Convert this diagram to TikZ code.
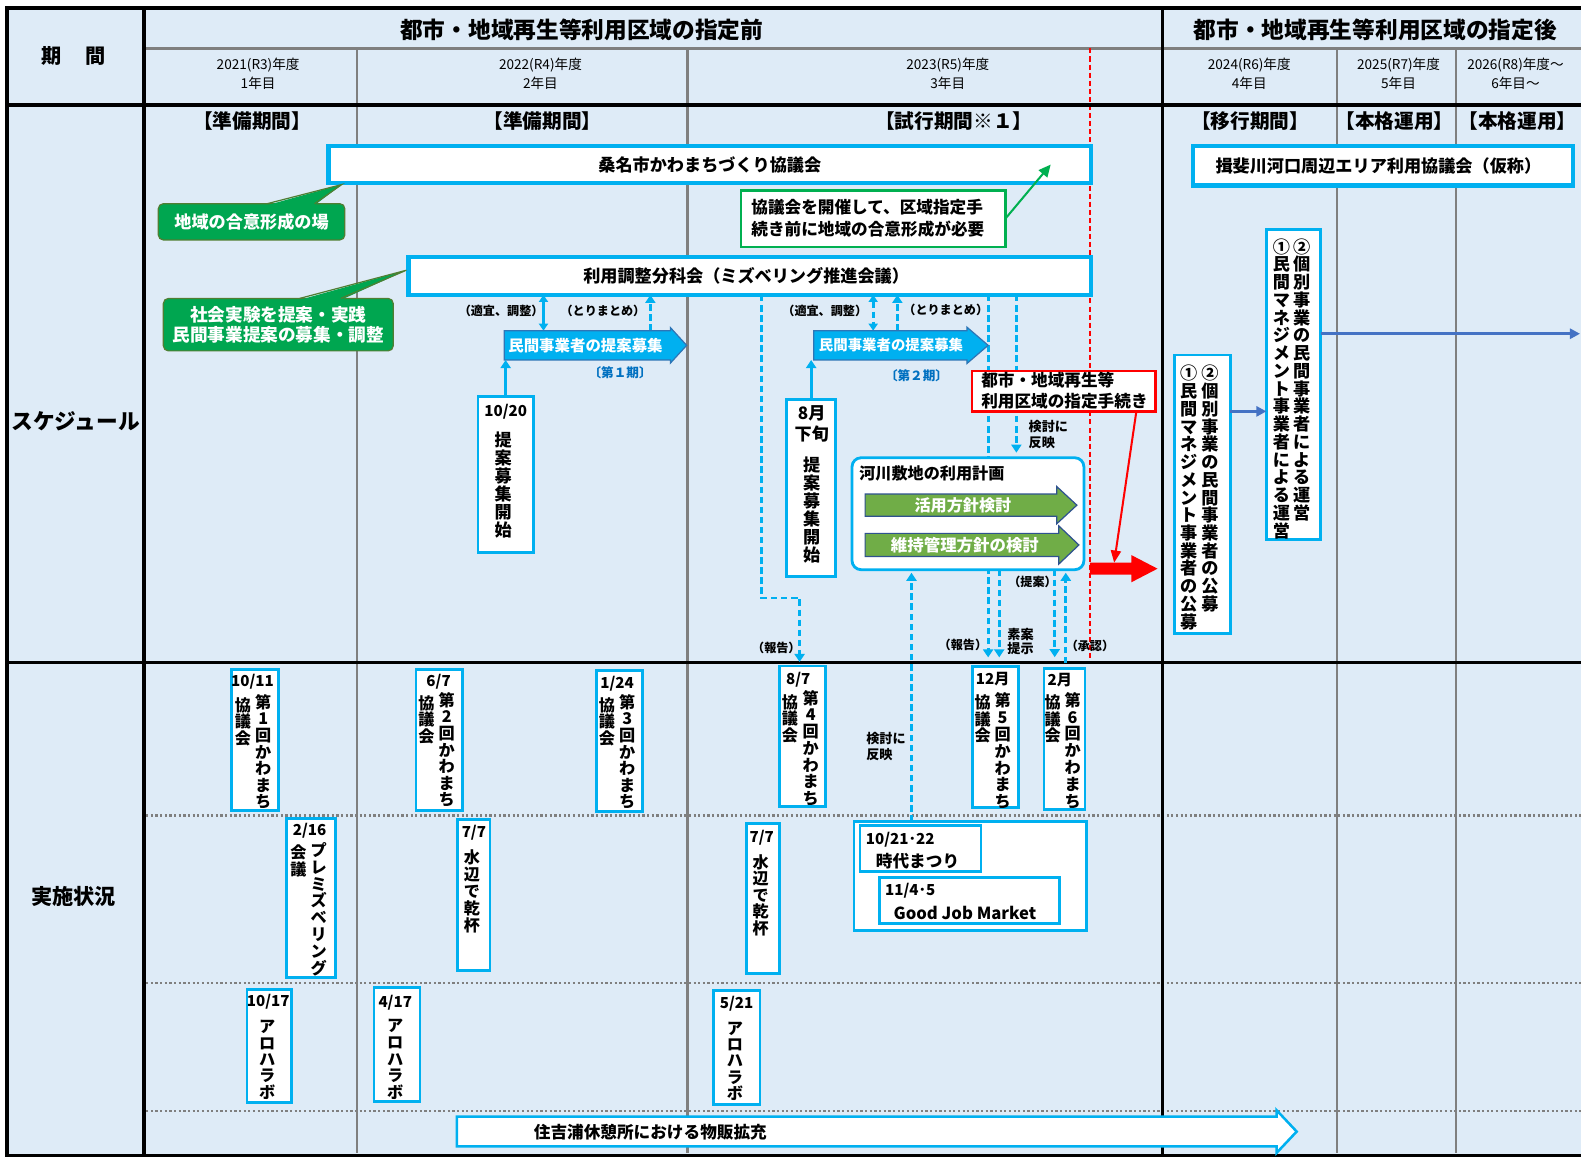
\documentclass[tikz,border=0pt]{standalone}
\usepackage{fontspec}
\setmainfont{Noto Sans CJK JP}
\usetikzlibrary{arrows.meta,calc}
\definecolor{bg}{HTML}{DEEBF7}
\definecolor{cy}{HTML}{00B0F0}
\definecolor{cyd}{HTML}{2E75B6}
\definecolor{gr}{HTML}{00A650}
\definecolor{grd}{HTML}{507E32}
\definecolor{grb}{HTML}{00B050}
\definecolor{lg}{HTML}{70AD47}
\definecolor{nav}{HTML}{2F528F}
\definecolor{bl}{HTML}{4472C4}
\definecolor{lbl}{HTML}{0070C0}
\definecolor{gl}{HTML}{7F7F7F}
\newcommand\fsz[1]{\fontsize{#1}{#1}\selectfont}
\newdimen\vstepd
\newcommand\vcolEnd{}
\makeatletter
\newcommand\vcol[2]{\vstepd=#1\relax\vbox{\offinterlineskip\vcol@#2\vcolEnd}}
\def\vcol@#1{\ifx#1\vcolEnd\else\hbox to 1em{\hss\vrule width 0pt height \dimexpr0.5\vstepd+0.38em\relax depth \dimexpr0.5\vstepd-0.38em\relax #1\hss}\expandafter\vcol@\fi}
\makeatother
\newcommand\bx[6]{\node[#1,anchor=north west,inner sep=0pt,outer sep=0pt,minimum width={(#5-#3)*1pt},minimum height={(#6-#4)*1pt}] (#2) at (#3,#4) {};}
\newcommand\arrowpath[4]{\path[#1] (#2.north west) -- (#2.north east) -- ([yshift=#3pt]#2.north east) -- ([xshift=#4pt]#2.east) -- ([yshift=-#3pt]#2.south east) -- (#2.south east) -- (#2.south west) -- cycle;}
\begin{document}
\begin{tikzpicture}[x=1pt,y=-1pt,
  tl/.style={line width=3.5pt,black,line cap=rect},
  gline/.style={line width=2.5pt,gl},
  dotl/.style={line width=2.5pt,gl,dash pattern=on 2.2pt off 2.4pt},
  bigbx/.style={draw=cy,line width=4.5pt,fill=white},
  vbx/.style={draw=cy,line width=2.8pt,fill=white},
  gcall/.style={fill=gr,draw=grd,line width=1.2pt,rounded corners=5pt},
  gbox/.style={draw=grb,line width=2.5pt,fill=white},
  redbx/.style={draw=red,line width=2.5pt,fill=white},
  rivbx/.style={draw=cy,line width=2.8pt,fill=white,rounded corners=9pt},
  nodraw/.style={},
  txb/.style={inner sep=0pt,font=\bfseries\fsz{#1}},
  yr/.style={inner sep=0pt,align=center,font=\fontsize{13.5}{19}\selectfont},
  vtx/.style={anchor=north,inner sep=0pt,font=\bfseries\fsz{#1}},
  two/.style={inner sep=0pt,align=left,anchor=west,font=\bfseries\fontsize{#1}{1.25\dimexpr #1pt\relax}\selectfont},
  cdash/.style={cy,line width=2.7pt,dash pattern=on 6.5pt off 3.5pt},
  cyarr/.style={-{Triangle[width=10pt,length=8pt]}},
]
\useasboundingbox (0,0) rectangle (1568,1150.5);
\fill[bg] (7,8) rectangle (1568,1146);
% grid
\draw[gline] (143,48) -- (1568,48);
\foreach \x in {354,682,1326,1444} \draw[gline] (\x,48) -- (\x,1144);
\foreach \y in {809,975,1102} \draw[dotl] (145,\y) -- (1568,\y);
\draw[red,line width=1.2pt,dash pattern=on 5pt off 3pt] (1081,48) -- (1081,656);
\draw[tl] (7,8) -- (1568,8);
\draw[tl] (7,104) -- (1568,104);
\draw[tl] (7,657) -- (1568,657);
\draw[tl] (7,1146) -- (1568,1146);
\draw[tl] (7,8) -- (7,1146);
\draw[tl] (143,8) -- (143,1146);
\draw[tl] (1153,8) -- (1153,1146);
% header
\node[txb=20] (hk) at (73,56) {期\hspace{24pt}間};
\node[txb=22.5] (h1) at (577,30) {都市・地域再生等利用区域の指定前};
\node[txb=22.5] (h2) at (1364,30) {都市・地域再生等利用区域の指定後};
\node[yr] (y1) at (256,73.5) {2021(R3)年度\\1年目};
\node[yr] (y2) at (536,73.5) {2022(R4)年度\\2年目};
\node[yr] (y3) at (940,73.5) {2023(R5)年度\\3年目};
\node[yr] (y4) at (1239,73.5) {2024(R6)年度\\4年目};
\node[yr] (y5) at (1387,73.5) {2025(R7)年度\\5年目};
\node[yr] (y6) at (1503,73.5) {2026(R8)年度～\\6年目～};
\node[txb=21.5] (rs) at (75,418) {スケジュール};
\node[txb=21] (rj) at (73,889) {実施状況};
\node[txb=19.5] (p1) at (250,120) {【準備期間】};
\node[txb=19.5] (p2) at (538,120) {【準備期間】};
\node[txb=19.5] (p3) at (946,120) {【試行期間※１】};
\node[txb=19.5] (p4) at (1240,120) {【移行期間】};
\node[txb=19.5] (p5) at (1383,120) {【本格運用】};
\node[txb=19.5] (p6) at (1505,120) {【本格運用】};
% node placeholders needed for connectors
\bx{nodraw}{A1}{500}{328}{665}{357}
\bx{nodraw}{A2}{807}{328}{959}{357}
\bx{nodraw}{K3}{405}{255}{1082}{292.5}
\bx{nodraw}{R}{845}{454}{1075}{565}
\bx{nodraw}{E8}{773}{660.5}{819}{800}
\bx{nodraw}{E11}{964.3}{661}{1010}{801}
\bx{nodraw}{E12}{1035.4}{662.8}{1076}{802.7}
\bx{nodraw}{EG}{847}{815}{1077.7}{923}
% dashed connectors
\draw[cdash,cyarr,shorten >=4pt] (755,0 |- K3.south) |- (793,593) -- (793,0 |- E8.north);
\draw[cdash,cyarr,shorten >=9pt] (980,0 |- K3.south) -- (980,0 |- E11.north);
\draw[cdash,cyarr,shorten >=5pt] (1008,0 |- K3.south) -- (1008,0 |- R.north);
\draw[cdash,cyarr,shorten >=9pt] (991,0 |- R.south) -- (991,0 |- E11.north);
\draw[cdash,cyarr,shorten >=11pt] (1046,0 |- R.south) -- (1046,0 |- E12.north);
\draw[cdash,cyarr,shorten >=3pt,shorten <=5pt] (1057,0 |- E12.north) -- (1057,0 |- R.south);
\draw[cdash,cyarr,shorten >=3pt] (904,0 |- EG.north) -- (904,0 |- R.south);
\draw[cy,line width=2.5pt,{Triangle[width=9pt,length=7pt]}-{Triangle[width=9pt,length=7pt]}] (539,0 |- K3.south) -- (539,0 |- A1.north);
\draw[cdash,cyarr] (645,0 |- A1.north) -- (645,0 |- K3.south);
\draw[cdash,{Triangle[width=9pt,length=7pt]}-{Triangle[width=9pt,length=7pt]}] (866,0 |- K3.south) -- (866,0 |- A2.north);
\draw[cdash,cyarr] (890,0 |- A2.north) -- (890,0 |- K3.south);
% big boxes
\bx{bigbx}{K1}{326}{145}{1082}{181.5}
\node[txb=17] (K1t) at (K1.center) {桑名市かわまちづくり協議会};
\bx{bigbx}{K2}{1183}{145}{1560}{184}
\node[txb=17] (K2t) at (1367,164.5) {揖斐川河口周辺エリア利用協議会（仮称）};
\bx{bigbx}{K3b}{405}{255}{1082}{292.5}
\node[txb=17] (K3t) at (740,273.5) {利用調整分科会（ミズベリング推進会議）};
% callouts
\bx{gcall}{G1}{157}{202}{342}{238}
\fill[gr] (265,203.5) -- (339,183) -- (312,203.5) -- cycle;
\draw[grd,line width=1.2pt] (265,202) -- (339,183) -- (312,202);
\node[txb=17,white] (G1t) at (G1.center) {地域の合意形成の場};
\bx{gcall}{G2}{162}{296}{390}{348}
\fill[gr] (297,297.5) -- (403,268) -- (338,297.5) -- cycle;
\draw[grd,line width=1.2pt] (297,296) -- (403,268) -- (338,296);
\node[white,inner sep=0pt,align=center,font=\bfseries\fontsize{17.5}{20.5}\selectfont] (G2t) at (G2.center) {社会実験を提案・実践\\民間事業提案の募集・調整};
\bx{gbox}{GB}{735}{189}{997}{245}
\node[inner sep=0pt,align=left,anchor=west,font=\bfseries\fontsize{16.5}{21}\selectfont] (GBt) at (745,216.5) {協議会を開催して、区域指定手\\続き前に地域の合意形成が必要};
\draw[grb,line width=2pt,-{Triangle[width=11pt,length=12pt]}] (GB.east) -- ([xshift=-40pt]K1.east);
% blue arrows
\arrowpath{fill=cy,draw=cyd,line width=1.2pt}{A1}{3}{16}
\node[txb=15.3,white,anchor=west] (A1t) at (504,342.5) {民間事業者の提案募集};
\node[txb=12.5,lbl] (P1) at (615,370) {〔第１期〕};
\arrowpath{fill=cy,draw=cyd,line width=1.2pt}{A2}{3.5}{21}
\node[txb=14.3,white,anchor=west] (A2t) at (812,342.5) {民間事業者の提案募集};
\node[txb=12.5,lbl] (P2) at (909,373) {〔第２期〕};
% proposal boxes
\bx{vbx}{B1}{474}{393}{529}{548}
\node[txb=15] (B1d) at (501.5,408) {10/20};
\node[vtx=17] (B1v) at (499,427) {\vcol{17.9pt}{提案募集開始}};
\draw[cy,line width=2.8pt,cyarr] (B1.north) -- (B1.north |- A1.south);
\bx{vbx}{B2}{780}{396}{829}{572}
\node[txb=17] (B2a) at (805,409.5) {8月};
\node[txb=17] (B2b) at (805,430) {下旬};
\node[vtx=17] (B2v) at (805,452) {\vcol{17.8pt}{提案募集開始}};
\draw[cy,line width=2.8pt,cyarr] (B2.north) -- (B2.north |- A2.south);
% river plan box
\bx{rivbx}{Rb}{845}{454}{1075}{565}
\node[txb=16,anchor=west] (Rt) at (852,469.5) {河川敷地の利用計画};
\bx{nodraw}{GA}{858}{490}{1048}{512}
\arrowpath{fill=lg,draw=nav,line width=1.2pt}{GA}{7.5}{20}
\node[txb=16,white] (GAt) at (955,501) {活用方針検討};
\bx{nodraw}{GB2}{858}{529}{1050}{552}
\arrowpath{fill=lg,draw=nav,line width=1.2pt}{GB2}{7.5}{20}
\node[txb=16.3,white] (GBt2) at (957,540.5) {維持管理方針の検討};
% red
\bx{redbx}{RB}{964}{368}{1146}{408}
\node[inner sep=0pt,align=left,anchor=west,font=\bfseries\fontsize{16.5}{20}\selectfont] (RBt) at (973,387.5) {都市・地域再生等\\利用区域の指定手続き};
\bx{nodraw}{RA}{1081}{558}{1122}{570}
\arrowpath{fill=red}{RA}{7.5}{26}
\draw[red,line width=2pt,-{Triangle[width=10pt,length=12pt]}] ([xshift=-19pt]RB.south east) -- ([xshift=24pt]RA.north west);
% labels
\node[txb=12] (L1) at (497,308) {（適宜、調整）};
\node[txb=12] (L2) at (598,308) {（とりまとめ）};
\node[txb=12] (L3) at (818,308) {（適宜、調整）};
\node[txb=12] (L4) at (938,307) {（とりまとめ）};
\node[txb=12] (L5) at (770,643) {（報告）};
\node[two=13] (L6) at (1020,431) {検討に\\反映};
\node[two=13] (L7) at (859,740.5) {検討に\\反映};
\node[txb=12] (L8) at (1024,577) {（提案）};
\node[txb=12] (L9) at (955,640) {（報告）};
\node[inner sep=0pt,align=left,anchor=west,font=\bfseries\fontsize{13}{13.5}\selectfont] (L10) at (999,636.5) {素案\\提示};
\node[txb=12] (L11) at (1081,641) {（承認）};
% right boxes
\bx{vbx}{BA}{1165}{352}{1220}{628}
\node[vtx=17] (BAl) at (1179,361.2) {\vcol{17.6pt}{①民間マネジメント事業者の公募}};
\node[vtx=17] (BAr) at (1200,361.2) {\vcol{17.6pt}{②個別事業の民間事業者の公募}};
\bx{vbx}{BB}{1256}{228}{1310}{535}
\node[vtx=17] (BBl) at (1271,235.6) {\vcol{17.6pt}{①民間マネジメント事業者による運営}};
\node[vtx=17] (BBr) at (1291,235.6) {\vcol{17.6pt}{②個別事業の民間事業者による運営}};
\coordinate (redge) at (1567,331);
\draw[bl,line width=2.8pt,-{Triangle[width=10pt,length=10pt]}] (BA.east |- 0,408) -- (BB.west |- 0,408);
\draw[bl,line width=2.8pt,-{Triangle[width=10pt,length=10pt]}] (BB.east |- redge) -- (redge);
% implementation boxes
\bx{vbx}{E1}{230}{664}{276}{804}
\node[txb=15] (E1d) at (250.4,676) {10/11};
\node[vtx=16] (E1r) at (261,687.75) {\vcol{16.5pt}{第1回かわまち}};
\node[vtx=16] (E1l) at (241,690.75) {\vcol{16.5pt}{協議会}};
\bx{vbx}{E2}{412.6}{664}{458.7}{804}
\node[txb=15] (E2d) at (435,676) {6/7};
\node[vtx=16] (E2r) at (443,685.75) {\vcol{16.5pt}{第2回かわまち}};
\node[vtx=16] (E2l) at (423,688.75) {\vcol{16.5pt}{協議会}};
\bx{vbx}{E3}{591.5}{665}{637.6}{805}
\node[txb=15] (E3d) at (612,678) {1/24};
\node[vtx=16] (E3r) at (622,687.75) {\vcol{16.5pt}{第3回かわまち}};
\node[vtx=16] (E3l) at (602,690.75) {\vcol{16.5pt}{協議会}};
\bx{vbx}{E4}{284}{811.6}{333}{969.6}
\node[txb=15] (E4d) at (307,824) {2/16};
\node[vtx=16] (E4r) at (316,834.65) {\vcol{16.7pt}{プレミズベリング}};
\node[vtx=16] (E4l) at (296,836.65) {\vcol{16.7pt}{会議}};
\bx{vbx}{E5}{454}{813}{486}{962.7}
\node[txb=15] (E5d) at (470,826) {7/7};
\node[vtx=16] (E5v) at (468,841.6) {\vcol{16.8pt}{水辺で乾杯}};
\bx{vbx}{E6}{245}{981}{289.4}{1093.6}
\node[txb=15] (E6d) at (266,993) {10/17};
\node[vtx=16] (E6v) at (265,1009.9) {\vcol{16.2pt}{アロハラボ}};
\bx{vbx}{E7}{371}{979}{416.6}{1092.6}
\node[txb=15] (E7d) at (392,994) {4/17};
\node[vtx=16] (E7v) at (392,1008.75) {\vcol{16.5pt}{アロハラボ}};
\bx{vbx}{E8b}{773}{660.5}{819}{800}
\node[txb=15] (E8d) at (791.6,674.4) {8/7};
\node[vtx=16] (E8r) at (804,683.7) {\vcol{16.6pt}{第4回かわまち}};
\node[vtx=16] (E8l) at (783.5,687.7) {\vcol{16.6pt}{協議会}};
\bx{vbx}{E9}{740.5}{816.5}{773}{965.3}
\node[txb=15] (E9d) at (755.4,831) {7/7};
\node[vtx=16] (E9v) at (754.5,846.4) {\vcol{16.4pt}{水辺で乾杯}};
\bx{vbx}{E10}{707.5}{982.5}{753.7}{1095}
\node[txb=15] (E10d) at (730.6,995.7) {5/21};
\node[vtx=16] (E10v) at (729,1011.65) {\vcol{16.1pt}{アロハラボ}};
\bx{vbx}{E11b}{964.3}{661}{1010}{801}
\node[txb=15] (E11d) at (984.5,673.7) {12月};
\node[vtx=16] (E11r) at (994.4,685.8) {\vcol{16.8pt}{第5回かわまち}};
\node[vtx=16] (E11l) at (974.6,687.6) {\vcol{16.8pt}{協議会}};
\bx{vbx}{E12b}{1035.4}{662.8}{1076}{802.7}
\node[txb=15] (E12d) at (1051,674) {2月};
\node[vtx=16] (E12r) at (1063.8,685.6) {\vcol{16.8pt}{第6回かわまち}};
\node[vtx=16] (E12l) at (1044,687.6) {\vcol{16.8pt}{協議会}};
\bx{vbx}{EGb}{847}{815}{1077.7}{923}
\bx{vbx}{EG1}{853}{819}{973}{864.5}
\node[txb=15,anchor=west] (EG1a) at (858.6,833) {10/21･22};
\node[txb=16.5] (EG1b) at (910,853.6) {時代まつり};
\bx{vbx}{EG2}{872}{870.4}{1051}{915.5}
\node[txb=15,anchor=west] (EG2a) at (877.7,883.3) {11/4･5};
\node[txb=16.5] (EG2b) at (957,905.8) {Good Job Market};
% outline arrow
\bx{nodraw}{OA}{453}{1107.5}{1266}{1137}
\arrowpath{fill=white,draw=cy,line width=2.5pt}{OA}{6.5}{20}
\node[txb=16.5] (OAt) at (645,1122.5) {住吉浦休憩所における物販拡充};
\end{tikzpicture}
\end{document}
